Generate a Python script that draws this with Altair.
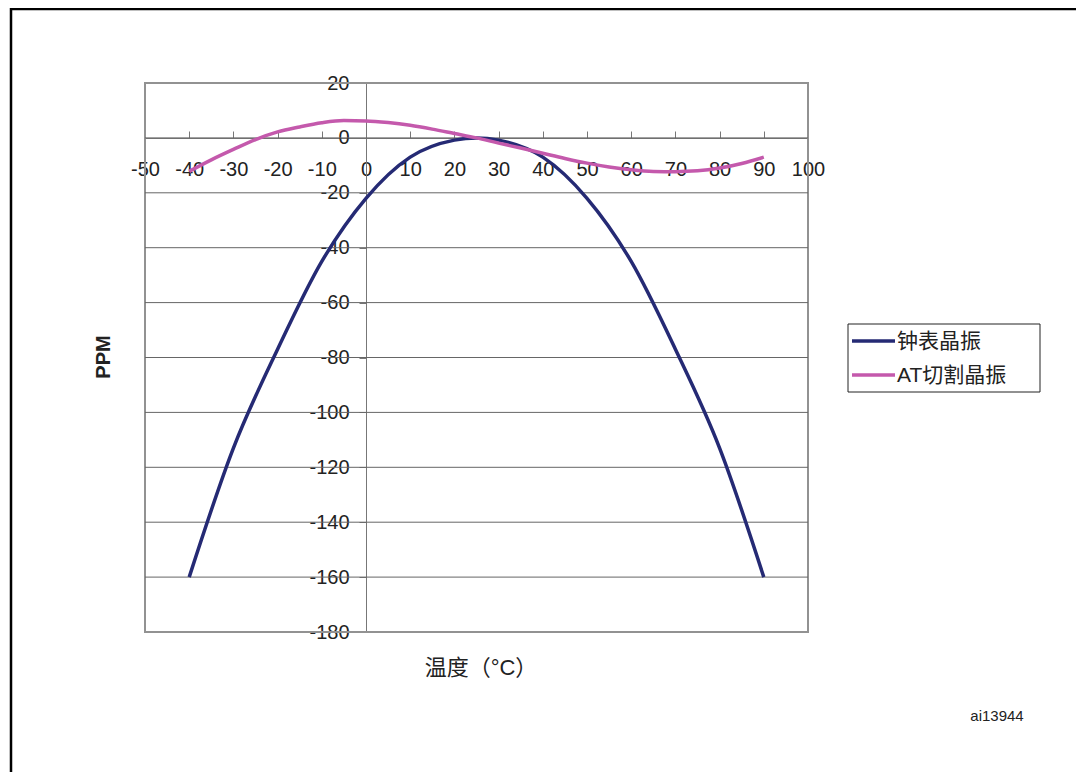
import altair as alt
import pandas as pd

# --- data ---
clock_t = [-40, -30, -20, -10, 0, 10, 20, 25, 30, 40, 50, 60, 70, 80, 90]
clock_ppm = [-160, -113, -77, -45, -22, -7, -0.8, 0, -0.8, -7, -22, -45, -77, -113, -160]

at_t = [-40, -35, -30, -25, -20, -15, -10, -5, 0, 5, 10, 15, 20, 25, 30, 35, 40,
        45, 50, 55, 60, 65, 70, 75, 80, 85, 90]
at_ppm = [-12.2, -8.0, -4.2, -0.6, 2.2, 4.0, 5.5, 6.3, 6.2, 5.6, 4.6, 3.2, 1.6, 0.0,
          -1.9, -3.7, -5.6, -7.5, -9.2, -10.6, -11.6, -12.2, -12.3, -12.0, -11.0, -9.3, -7.0]

series_names = ["钟表晶振", "AT切割晶振"]
series_colors = ["#252A74", "#C459AC"]

x_ticks = list(range(-50, 101, 10))
y_ticks = list(range(-180, 21, 20))
grid_vals = list(range(-160, 1, 20))

x_title = "温度（°C）"
y_title = "PPM"
code_label = "ai13944"

FONT = "Liberation Sans, Arial, Noto Sans CJK SC"

rows = [{"t": t, "ppm": p, "s": series_names[0]} for t, p in zip(clock_t, clock_ppm)]
rows += [{"t": t, "ppm": p, "s": series_names[1]} for t, p in zip(at_t, at_ppm)]
df = pd.DataFrame(rows)

W, H = 663, 549
xscale = alt.Scale(domain=[-50, 100], nice=False, zero=False)
yscale = alt.Scale(domain=[-180, 20], nice=False, zero=False)
cscale = alt.Scale(domain=series_names, range=series_colors)

x_axis = alt.Axis(orient="top", offset=-55, values=x_ticks, tickSize=7,
                  labelPadding=-28, labelBaseline="top", grid=False,
                  domainColor="#777777", tickColor="#777777",
                  labelFontSize=20, labelColor="#222222", labelFont=FONT,
                  labelOverlap=False, labelFlush=False, title=None,
                  labelExpr="'' + datum.value")
y_axis = alt.Axis(orient="left", offset=-221, values=y_ticks, tickSize=7,
                  labelPadding=10, grid=False,
                  domainColor="#777777", tickColor="#777777",
                  labelFontSize=20, labelColor="#222222", labelFont=FONT,
                  labelOverlap=False, labelFlush=False, title=None,
                  labelExpr="'' + datum.value")

border = alt.Chart(pd.DataFrame({"a": [0]})).mark_rect(
    fill=None, stroke="#929292", strokeWidth=2
).encode(x=alt.value(0), y=alt.value(0), x2=alt.value(W), y2=alt.value(H))

grid = alt.Chart(pd.DataFrame({"g": grid_vals})).mark_rule(
    color="#666666", strokeWidth=1
).encode(y=alt.Y("g:Q", scale=yscale, axis=y_axis))

lines = alt.Chart(df).mark_line(strokeWidth=3.5, interpolate="monotone").encode(
    x=alt.X("t:Q", scale=xscale, axis=x_axis),
    y=alt.Y("ppm:Q", scale=yscale, axis=y_axis),
    color=alt.Color("s:N", scale=cscale, legend=None),
    order=alt.Order("t:Q"),
)

# legend drawn as a small panel (box, line keys, labels)
LX, LY, LW, LH = 703, 241, 192, 68
ROW0, ROWSTEP = 17, 34
leg_box = alt.Chart(pd.DataFrame({"a": [0]})).mark_rect(
    fill="white", stroke="#222222", strokeWidth=1
).encode(x=alt.value(LX), y=alt.value(LY), x2=alt.value(LX + LW), y2=alt.value(LY + LH))

leg_parts = []
for i, name in enumerate(series_names):
    d = pd.DataFrame({"s": [name]})
    yy = LY + ROW0 + i * ROWSTEP
    leg_parts.append(alt.Chart(d).mark_rule(strokeWidth=3.5).encode(
        x=alt.value(LX + 4), x2=alt.value(LX + 47), y=alt.value(yy),
        color=alt.Color("s:N", scale=cscale, legend=None)))
    leg_parts.append(alt.Chart(d).mark_text(
        fontSize=21, font=FONT, color="#222222", align="left", baseline="middle"
    ).encode(x=alt.value(LX + 49), y=alt.value(yy + 1), text="s:N"))


def label(txt, x, y, size, **kw):
    return alt.Chart(pd.DataFrame({"txt": [txt]})).mark_text(
        fontSize=size, font=FONT, color="#222222", **kw
    ).encode(x=alt.value(x), y=alt.value(y), text="txt:N")


ylab = label(y_title, -41, 274, 20, fontWeight="bold", angle=270)
xlab = label(x_title, 336, 585, 22)
code = label(code_label, 852, 633, 15)

frame = alt.Chart(pd.DataFrame({"a": [0]})).mark_rect(
    fill=None, stroke="black", strokeWidth=2.5
).encode(x=alt.value(-134), y=alt.value(-74), x2=alt.value(1000), y2=alt.value(800))

chart = alt.layer(frame, border, grid, lines, leg_box, *leg_parts, ylab, xlab, code).properties(
    width=W, height=H,
    autosize=alt.AutoSizeParams(type="none"),
    padding={"left": 137, "top": 75, "right": 268, "bottom": 140},
).configure_view(stroke=None).configure(background="white")

chart.save("out.html", embed_options={"renderer": "svg", "actions": False})
